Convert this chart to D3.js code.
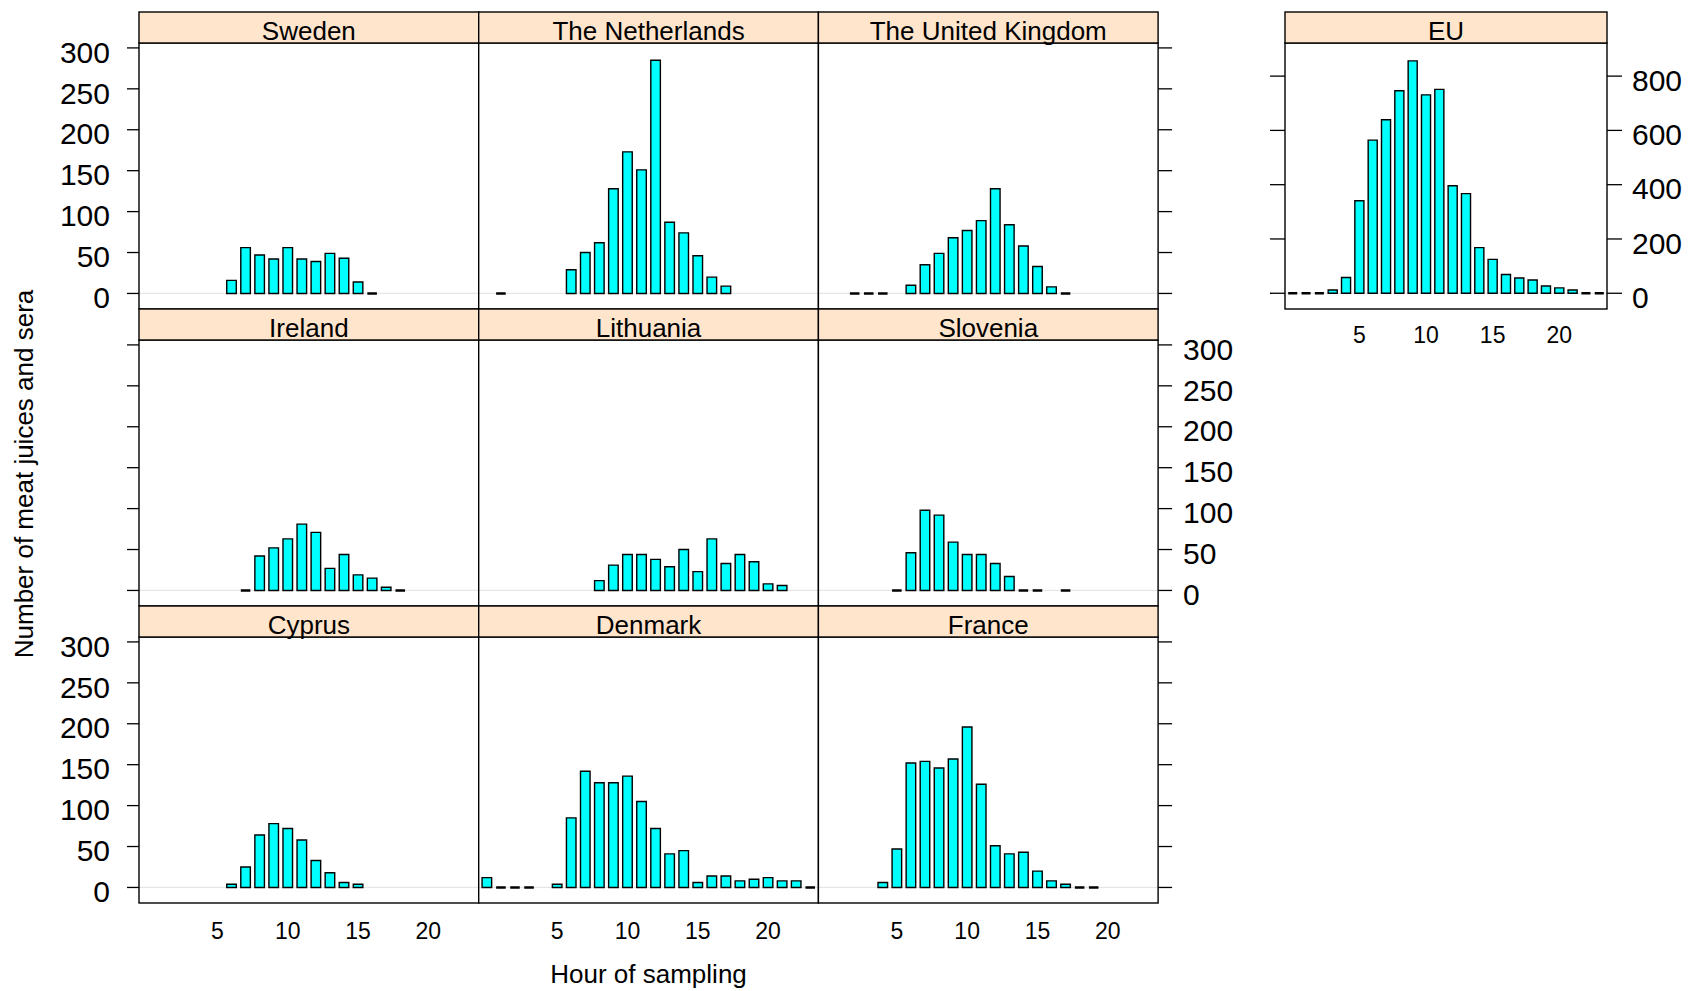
<!DOCTYPE html>
<html>
<head>
<meta charset="utf-8">
<script src="https://cdn.jsdelivr.net/npm/d3@7"></script>
<style>
  body { margin: 0; background: #fff; }
  text { font-family: "Liberation Sans", Arial, sans-serif; fill: #000; }
</style>
</head>
<body>
<div id="chart"></div>
<script>
// hours of sampling, 0..23 (null = no bar drawn, 0 = flat dash)
var hours = d3.range(0, 24);

var sweden      = [null,null,null,null,null,null,16,56,47,42,56,42,39,49,43,14,0,null,null,null,null,null,null,null];
var netherlands = [null,0,null,null,null,null,29,50,62,128,173,151,285,87,74,46,20,9,null,null,null,null,null,null];
var uk          = [null,null,0,0,0,null,10,35,49,68,77,89,128,84,58,33,8,0,null,null,null,null,null,null];
var ireland     = [null,null,null,null,null,null,null,0,42,52,63,81,71,27,44,19,15,4,0,null,null,null,null,null];
var lithuania   = [null,null,null,null,null,null,null,null,12,31,44,44,38,29,50,23,63,33,44,35,8,6,null,null];
var slovenia    = [null,null,null,null,null,0,46,98,92,59,44,44,33,17,0,0,null,0,null,null,null,null,null,null];
var cyprus      = [null,null,null,null,null,null,4,25,64,78,72,58,33,18,6,4,null,null,null,null,null,null,null,null];
var denmark     = [12,0,0,0,null,4,85,142,128,128,136,105,72,41,45,6,14,14,8,10,12,8,8,0];
var france      = [null,null,null,null,6,47,152,154,146,157,196,126,51,41,43,20,8,4,0,0,null,null,null,null];
var eu          = [0,0,0,12,58,341,564,639,746,856,731,751,396,367,168,125,69,56,49,27,20,12,0,0];

// panel layout (row, col) in the lattice grid
var countries = ["Sweden", "The Netherlands", "The United Kingdom",
                 "Ireland", "Lithuania", "Slovenia",
                 "Cyprus", "Denmark", "France"];
var series = [sweden, netherlands, uk, ireland, lithuania, slovenia, cyprus, denmark, france];

var yTicks = [0, 50, 100, 150, 200, 250, 300];
var euTicks = [0, 200, 400, 600, 800];
var xTicks = [5, 10, 15, 20];

var gridLeft = 139, gridTop = 12,
    panelW = 339.7, rowH = 297, stripH = 31,
    tickLen = 12;

var svg = d3.select("#chart")
  .append("svg")
  .attr("width", 1690)
  .attr("height", 991);

// draws one lattice panel with its strip
function drawPanel(g, name, values, x, y, w) {
  var top = y + stripH, bottom = y + rowH;

  var xs = d3.scaleLinear().domain([-0.58, 23.58]).range([x, x + w]);
  var ys = d3.scaleLinear().domain(name == "EU" ? [-58, 922] : [-19, 306]).range([bottom, top]);

  g.append("rect")
    .attr("x", x).attr("y", top)
    .attr("width", w).attr("height", bottom - top)
    .attr("fill", "#fff");

  // reference line at zero
  g.append("line")
    .attr("x1", x).attr("x2", x + w)
    .attr("y1", ys(0)).attr("y2", ys(0))
    .attr("stroke", "#e6e6e6")
    .attr("stroke-width", 1.2);

  var bw = 0.68;
  var data = hours.map((h, i) => ({h: h, v: values[i]})).filter(d => d.v !== null);

  // bars as paths so that zero counts still show as a flat dash
  g.selectAll("path.bar")
    .data(data)
    .enter()
    .append("path")
    .attr("class", "bar")
    .attr("d", function(d) {
      var x0 = xs(d.h - bw / 2), x1 = xs(d.h + bw / 2),
          y0 = ys(0), y1 = ys(d.v);
      return "M" + x0 + "," + y0 + "L" + x0 + "," + y1 + "L" + x1 + "," + y1 + "L" + x1 + "," + y0 + "Z";
    })
    .attr("fill", "#00ffff")
    .attr("stroke", "#000")
    .attr("stroke-width", d => d.v == 0 ? 2.4 : 1.4);

  // panel border
  g.append("rect")
    .attr("x", x).attr("y", top)
    .attr("width", w).attr("height", bottom - top)
    .attr("fill", "none")
    .attr("stroke", "#000")
    .attr("stroke-width", 1.4);

  // strip
  g.append("rect")
    .attr("x", x).attr("y", y)
    .attr("width", w).attr("height", stripH)
    .attr("fill", "#ffe5cc")
    .attr("stroke", "#000")
    .attr("stroke-width", 1.4);

  g.append("text")
    .attr("x", x + w / 2)
    .attr("y", top - 3)
    .attr("text-anchor", "middle")
    .attr("font-size", "26px")
    .text(name);

  return {xs: xs, ys: ys, top: top, bottom: bottom};
}

function yAxis(g, p, ticks, side, x, len, labels, fs) {
  var dir = side == "left" ? -1 : 1;
  ticks.forEach(function(t) {
    g.append("line")
      .attr("x1", x).attr("x2", x + dir * len)
      .attr("y1", p.ys(t)).attr("y2", p.ys(t))
      .attr("stroke", "#000")
      .attr("stroke-width", 1.3);
    if (labels) {
      g.append("text")
        .attr("x", side == "left" ? x - 29 : x + 25)
        .attr("y", p.ys(t))
        .attr("dy", "0.49em")
        .attr("text-anchor", side == "left" ? "end" : "start")
        .attr("font-size", fs)
        .text(t);
    }
  });
}

function xAxis(g, p, baseline) {
  g.selectAll("text.xt")
    .data(xTicks)
    .enter()
    .append("text")
    .attr("class", "xt")
    .attr("x", d => p.xs(d))
    .attr("y", baseline)
    .attr("text-anchor", "middle")
    .attr("font-size", "23px")
    .text(d => d);
}

countries.forEach(function(name, i) {
  var row = Math.floor(i / 3), col = i % 3;
  var g = svg.append("g");
  var p = drawPanel(g, name, series[i], gridLeft + col * panelW, gridTop + row * rowH, panelW);

  if (col == 0)
    yAxis(g, p, yTicks, "left", gridLeft, tickLen, row != 1, "30px");
  if (col == 2)
    yAxis(g, p, yTicks, "right", gridLeft + 3 * panelW, tickLen + 2, row == 1, "30px");
  if (row == 2)
    xAxis(g, p, 939);
});

// EU panel on its own
var euLeft = 1285, euW = 322;
var gEU = svg.append("g");
var pEU = drawPanel(gEU, "EU", eu, euLeft, gridTop, euW);
yAxis(gEU, pEU, euTicks, "left", euLeft, 15, false, "30px");
yAxis(gEU, pEU, euTicks, "right", euLeft + euW, 15, true, "30px");
xAxis(gEU, pEU, 343);

// axis titles
svg.append("text")
  .attr("x", gridLeft + 1.5 * panelW)
  .attr("y", 983)
  .attr("text-anchor", "middle")
  .attr("font-size", "26px")
  .text("Hour of sampling");

svg.append("text")
  .attr("transform", "translate(33,474) rotate(-90)")
  .attr("text-anchor", "middle")
  .attr("font-size", "26px")
  .text("Number of meat juices and sera");
</script>
</body>
</html>
